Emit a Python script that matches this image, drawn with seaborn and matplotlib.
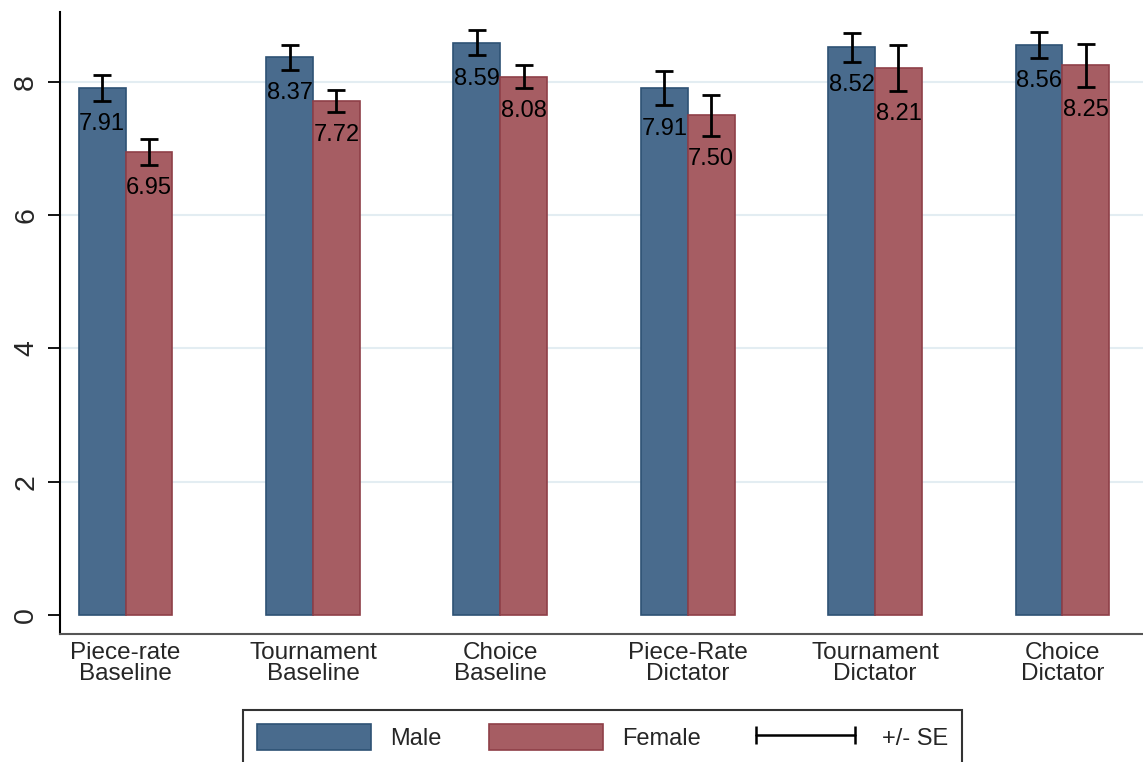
import matplotlib
matplotlib.use("Agg")
import matplotlib.pyplot as plt
from matplotlib.patches import Patch
from matplotlib.lines import Line2D
import seaborn as sns
import pandas as pd
import numpy as np

# ---------------- data ----------------
categories = ["Piece-rate\nBaseline", "Tournament\nBaseline", "Choice\nBaseline",
              "Piece-Rate\nDictator", "Tournament\nDictator", "Choice\nDictator"]
male_means = [7.91, 8.37, 8.59, 7.91, 8.52, 8.56]
female_means = [6.95, 7.72, 8.08, 7.50, 8.21, 8.25]
male_se = [0.19, 0.19, 0.19, 0.26, 0.22, 0.195]
female_se = [0.19, 0.165, 0.17, 0.31, 0.34, 0.32]
groups = ["Male", "Female"]
y_ticks = [0, 2, 4, 6, 8]

# ---------------- style ----------------
sns.set_style("white")
plt.rcParams["font.family"] = ["Liberation Sans", "DejaVu Sans"]
FS = 17
male_color = "#496b8d"
male_edge = "#2e5274"
female_color = "#a65d63"
female_edge = "#8f3f48"

df = pd.DataFrame({
    "cat": categories * 2,
    "sex": [groups[0]] * len(categories) + [groups[1]] * len(categories),
    "mean": male_means + female_means,
    "se": male_se + female_se,
})

fig = plt.figure(figsize=(11.43, 7.62), dpi=100)
ax = fig.add_axes([60 / 1143, (762 - 634) / 762, 1 - 60 / 1143, (634 - 12) / 762])

sns.barplot(data=df, x="cat", y="mean", hue="sex", order=categories,
            hue_order=groups, palette=[male_color, female_color],
            errorbar=None, width=0.5, gap=0, saturation=1, legend=False, ax=ax)

edges = [male_edge, female_edge]
ses = [male_se, female_se]
bar_containers = list(ax.containers)
for ci, cont in enumerate(bar_containers):
    xs, hs = [], []
    for bar in cont.patches:
        bar.set_edgecolor(edges[ci])
        bar.set_linewidth(1.2)
        xs.append(bar.get_x() + bar.get_width() / 2)
        hs.append(bar.get_height())
    xs = np.array(xs)
    hs = np.array(hs)
    se = np.array(ses[ci])
    ax.errorbar(xs, hs, yerr=se, fmt="none", ecolor="black", elinewidth=2,
                capsize=6.5, capthick=2, zorder=5)
    for x, h, s in zip(xs, hs, se):
        ax.annotate(f"{h:.2f}", xy=(x, h - s), xytext=(0, -9),
                    textcoords="offset points", ha="center", va="top",
                    fontsize=FS, color="black", zorder=6)

# axes limits
ax.set_xlim(-0.35, 5.43)
ax.set_ylim(-0.285, 9.05)
ax.set_yticks(y_ticks)
ax.set_yticklabels([str(t) for t in y_ticks], rotation=90, va="center",
                   fontsize=20.5)
ax.tick_params(axis="y", length=8.5, width=1.3, color="black", pad=6.5, left=True)
ax.tick_params(axis="x", length=0, pad=6, labelsize=17.5)
for lbl in ax.get_xticklabels():
    lbl.set_linespacing(0.95)
ax.set_xlabel("")
ax.set_ylabel("")

# grid
ax.yaxis.grid(True, color="#e3edf2", linewidth=1.5)
ax.set_axisbelow(True)
gl = ax.yaxis.get_gridlines()
gl[0].set_visible(False)

for side in ["top", "right"]:
    ax.spines[side].set_visible(False)
ax.spines["left"].set_color("black")
ax.spines["left"].set_linewidth(1.5)
ax.spines["bottom"].set_color("#555555")
ax.spines["bottom"].set_linewidth(1.5)

# legend
handles = [
    Patch(facecolor=male_color, edgecolor=male_edge, linewidth=1.2),
    Patch(facecolor=female_color, edgecolor=female_edge, linewidth=1.2),
    Line2D([0], [0], color="black", linewidth=1.8, marker="|", markersize=13,
           markeredgewidth=1.8),
]
labels = ["Male", "Female", "+/- SE"]
leg = fig.legend(handles, labels, loc="upper left",
                 bbox_to_anchor=(243 / 1143, (762 - 710) / 762),
                 ncol=3, fontsize=FS, frameon=True, fancybox=False,
                 edgecolor="black", handlelength=4.8, handleheight=1.3,
                 handletextpad=0.85, columnspacing=2.0, borderpad=0.6,
                 numpoints=2, borderaxespad=0)
leg.get_frame().set_linewidth(1.5)

fig.savefig("out.png", dpi=100)
